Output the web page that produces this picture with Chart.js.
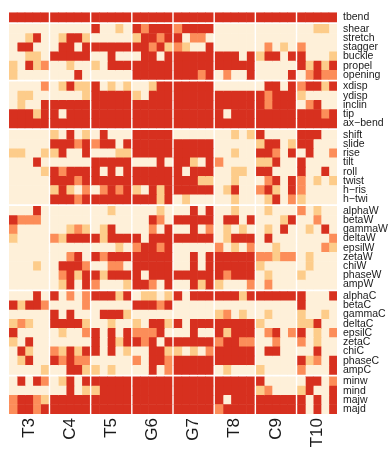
<!DOCTYPE html>
<html><head><meta charset="utf-8">
<script src="https://cdn.jsdelivr.net/npm/chart.js@4/dist/chart.umd.min.js"></script>
<style>html,body{margin:0;padding:0;background:#fff}</style>
</head><body>
<canvas id="c" width="390" height="458"></canvas>
<script>
// column groups (5 columns each)
const groups = ['T3','C4','T5','G6','G7','T8','C9','T10'];
const colsPerGroup = 5;
// row names (top to bottom) and the sizes of the row blocks
const rowNames = ['tbend','shear','stretch','stagger','buckle','propel','opening',
  'xdisp','ydisp','inclin','tip','ax\u2212bend',
  'shift','slide','rise','tilt','roll','twist','h\u2212ris','h\u2212twi',
  'alphaW','betaW','gammaW','deltaW','epsilW','zetaW','chiW','phaseW','ampW',
  'alphaC','betaC','gammaC','deltaC','epsilC','zetaC','chiC','phaseC','ampC',
  'minw','mind','majw','majd'];
const rowBlocks = [1,6,5,8,9,9,4];
// colour class of each cell: 0 lowest .. 3 highest, one string per row, groups split by spaces
const levels = [
  "33333 33333 33333 33333 33333 33333 33333 33333",
  "00000 00000 30010 32333 23333 00000 00000 00110",
  "00130 01331 00000 13323 30220 00000 00000 00000",
  "03300 03303 33333 33231 21003 00000 02010 20000",
  "00110 33333 00300 03303 33333 33303 13303 30001",
  "10312 00100 10333 33333 33333 33333 00000 31313",
  "10000 00030 00000 33333 33323 02003 00003 02322",
  "00002 01311 30101 00133 33333 00000 03303 23313",
  "01100 00001 33333 10333 33333 33333 32333 10000",
  "01003 33333 33333 33333 33333 33333 32333 02300",
  "33313 30333 33333 33333 33333 30333 33333 33323",
  "33333 33333 33333 33333 33333 33333 33333 33333",
  "00000 10301 03000 33333 00000 00101 30000 33300",
  "00000 33323 23303 33333 33333 00000 13301 33000",
  "11001 13003 00011 33333 33333 00100 33203 03002",
  "00030 00000 33333 00030 33103 20000 11300 30000",
  "00001 32333 30303 33333 30333 00110 33000 30030",
  "00000 33323 33333 33333 33311 00100 02303 20101",
  "00000 13102 02323 10313 33333 01300 23103 20000",
  "00000 33323 33333 33313 01000 00100 01302 10000",
  "00030 00000 00100 00010 00303 00100 01000 20100",
  "32220 00000 00000 00320 33333 03303 00013 00200",
  "20000 00121 01300 00203 00302 01010 01030 01030",
  "10000 21333 31333 30333 33333 01333 03000 00002",
  "00000 00000 00010 23323 00000 20102 00100 00021",
  "00000 00230 32333 33333 00303 33333 22122 01000",
  "00010 03332 00220 33333 00303 33333 10000 01000",
  "00000 02313 31333 30333 33333 32333 01000 10000",
  "00000 01303 20001 33203 00313 10002 02000 00000",
  "00030 30202 33313 01101 30333 33313 33333 30003",
  "31332 00002 00000 33323 00000 00000 00000 30000",
  "00000 30300 03331 00000 00000 12010 01000 10010",
  "12100 33331 00100 10331 30333 33333 10000 11300",
  "30000 01002 30303 22230 00300 31333 02302 30102",
  "10300 00000 30313 32303 33333 23322 00200 20100",
  "03100 21313 30301 00331 10102 33333 03300 00300",
  "01300 32322 00000 20332 33333 33333 00000 31203",
  "00001 00331 10100 00302 33333 01000 10000 20003",
  "03032 01303 33333 33333 33333 33333 30000 03302",
  "00000 00301 13333 33333 33333 33333 12000 13003",
  "23321 33333 33333 33333 33333 30333 33333 30303",
  "23323 33333 33333 33333 33333 23333 33333 30303"
];
const levelColors = ['#fef0d9','#fdcc8a','#fc8d59','#d7301f'];

const GAPX = 0.26, GAPY = 0.26;
const cells = levels.map(s => s.replace(/\s+/g,''));
const nCols = groups.length * colsPerGroup;
const colPos = j => Math.floor(j/colsPerGroup)*(colsPerGroup+GAPX) + (j%colsPerGroup);
const rowBlockOf = [];
rowBlocks.forEach((n,b)=>{ for(let k=0;k<n;k++) rowBlockOf.push(b); });
const rowPos = r => r + rowBlockOf[r]*GAPY;

const datasets = [];
for (let j=0;j<nCols;j++){
  datasets.push({
    data: rowNames.map((n,r)=>({y: rowPos(r), x: [colPos(j), colPos(j)+1]})),
    backgroundColor: rowNames.map((n,r)=>levelColors[+cells[r][j]]),
    borderWidth: 0,
    inflateAmount: 0.3,
    grouped: false,
    barPercentage: 1,
    categoryPercentage: 1
  });
}

Chart.defaults.font.family = "'Liberation Sans', Arial, Helvetica, sans-serif";
new Chart(document.getElementById('c'), {
  type: 'bar',
  data: { datasets },
  options: {
    indexAxis: 'y',
    responsive: false,
    animation: false,
    layout: { padding: { top: 10, left: 9, right: 0, bottom: 0 } },
    plugins: { legend: { display: false }, tooltip: { enabled: false } },
    scales: {
      x: {
        type: 'linear', offset: false,
        min: -0.04, max: colPos(nCols-1)+1.04,
        grid: { display: false, drawTicks: false }, border: { display: false },
        afterBuildTicks: s => { s.ticks = groups.map((g,i)=>({ value: colPos(i*colsPerGroup) + colsPerGroup/2 })); },
        ticks: { autoSkip: false, minRotation: 90, maxRotation: 90, padding: 4,
          color: '#1a1a1a', font: { size: 17 }, callback: (v,i) => groups[i] },
        afterFit: s => { s.height = 44; }
      },
      y: {
        type: 'linear', position: 'right', reverse: true, offset: false,
        min: -0.54, max: rowPos(rowNames.length-1)+0.54,
        grid: { display: false, drawTicks: false }, border: { display: false },
        afterBuildTicks: s => { s.ticks = rowNames.map((n,r)=>({ value: rowPos(r) })); },
        ticks: { autoSkip: false, padding: 6, color: '#1a1a1a', font: { size: 10.5 },
          callback: (v,i) => rowNames[i] },
        afterFit: s => { s.width = 53; }
      }
    }
  }
});
</script>
</body></html>
